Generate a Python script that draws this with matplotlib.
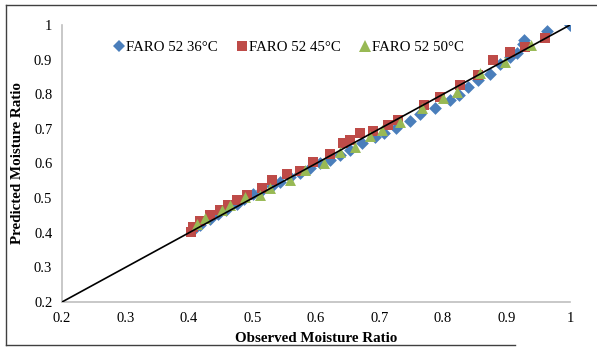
import matplotlib
matplotlib.use("Agg")
import matplotlib.pyplot as plt
from matplotlib.lines import Line2D

plt.rcParams['font.family'] = ['Liberation Serif', 'DejaVu Serif']

# Observed / predicted moisture ratio per series
obs_36 = [1.0, 0.964, 0.928, 0.926, 0.917, 0.906, 0.89, 0.874, 0.855, 0.84, 0.825, 0.811,
          0.787, 0.764, 0.748, 0.726, 0.707, 0.693, 0.672, 0.654, 0.638, 0.622, 0.606,
          0.59, 0.575, 0.559, 0.543, 0.53, 0.515, 0.5, 0.487, 0.475, 0.458, 0.445,
          0.433, 0.417, 0.408]
pred_36 = [1.0, 0.983, 0.957, 0.946, 0.92, 0.908, 0.888, 0.859, 0.842, 0.82, 0.798, 0.784,
           0.76, 0.743, 0.723, 0.703, 0.688, 0.677, 0.66, 0.639, 0.625, 0.61, 0.602,
           0.587, 0.574, 0.561, 0.547, 0.535, 0.524, 0.512, 0.498, 0.484, 0.466, 0.453,
           0.44, 0.423, 0.411]

obs_45 = [0.961, 0.929, 0.906, 0.879, 0.855, 0.827, 0.795, 0.77, 0.729, 0.713, 0.69,
          0.669, 0.654, 0.642, 0.622, 0.595, 0.575, 0.554, 0.531, 0.515, 0.491, 0.476,
          0.462, 0.449, 0.433, 0.417, 0.406, 0.403]
pred_45 = [0.963, 0.937, 0.923, 0.899, 0.856, 0.827, 0.792, 0.77, 0.726, 0.712, 0.695,
           0.688, 0.668, 0.66, 0.628, 0.605, 0.579, 0.57, 0.553, 0.53, 0.51, 0.495,
           0.48, 0.466, 0.45, 0.433, 0.418, 0.403]

obs_50 = [0.939, 0.898, 0.858, 0.822, 0.8, 0.767, 0.732, 0.704, 0.685, 0.661, 0.638,
          0.613, 0.583, 0.559, 0.528, 0.512, 0.488, 0.465, 0.452, 0.425, 0.413]
pred_50 = [0.943, 0.894, 0.862, 0.807, 0.79, 0.761, 0.72, 0.697, 0.68, 0.648, 0.634,
           0.602, 0.582, 0.553, 0.529, 0.51, 0.503, 0.48, 0.466, 0.443, 0.425]

labels = ["FARO 52 36°C", "FARO 52 45°C", "FARO 52 50°C"]
colors = ["#4A7EBB", "#BE4B48", "#98B954"]
ticks = [0.2, 0.3, 0.4, 0.5, 0.6, 0.7, 0.8, 0.9, 1.0]
tick_labels = ["0.2", "0.3", "0.4", "0.5", "0.6", "0.7", "0.8", "0.9", "1"]

fig = plt.figure(figsize=(5.97, 3.51), dpi=100)
ax = fig.add_axes([62/597, 49/351, 508/597, 277/351])

ax.scatter(obs_36, pred_36, marker='D', s=42, color=colors[0], linewidths=0, zorder=3)
ax.scatter(obs_45, pred_45, marker='s', s=46, color=colors[1], linewidths=0, zorder=3)
ax.scatter(obs_50, pred_50, marker='^', s=62, color=colors[2], linewidths=0, zorder=3)
ax.plot([0.2, 1.0], [0.2, 1.0], color='black', lw=1.2, zorder=4)

ax.set_xlim(0.2, 1.0)
ax.set_ylim(0.2, 1.0)
ax.set_xticks(ticks)
ax.set_xticklabels(tick_labels)
ax.set_yticks(ticks)
ax.set_yticklabels(tick_labels)
ax.tick_params(length=0, labelsize=10.5, pad=7)
for s in ['top', 'right']:
    ax.spines[s].set_visible(False)
for s in ['left', 'bottom']:
    ax.spines[s].set_color('#BFBFBF')
    ax.spines[s].set_linewidth(1.2)

ax.set_xlabel("Observed Moisture Ratio", fontsize=10.8, fontweight='bold', labelpad=5)
ax.set_ylabel("Predicted Moisture Ratio", fontsize=10.8, fontweight='bold', labelpad=7)

handles = [
    Line2D([], [], marker='D', ls='none', color=colors[0], markersize=6.5, markeredgewidth=0),
    Line2D([], [], marker='s', ls='none', color=colors[1], markersize=7, markeredgewidth=0),
    Line2D([], [], marker='^', ls='none', color=colors[2], markersize=8, markeredgewidth=0),
]
ax.legend(handles, labels, loc='upper left', bbox_to_anchor=(0.092, 0.965), ncol=3,
          frameon=False, fontsize=10.7, handlelength=0.6, handletextpad=0.15,
          columnspacing=1.35, borderaxespad=0)

# outer frame
fig.add_artist(Line2D([6/597, 6/597], [1 - 345/351, 1 - 5/351], transform=fig.transFigure,
                      color='#404040', lw=1))
fig.add_artist(Line2D([6/597, 1.0], [1 - 5/351, 1 - 5/351], transform=fig.transFigure,
                      color='#404040', lw=1))
fig.add_artist(Line2D([6/597, 515/597], [1 - 345/351, 1 - 345/351], transform=fig.transFigure,
                      color='#404040', lw=1))

fig.savefig("out.png", dpi=100)
